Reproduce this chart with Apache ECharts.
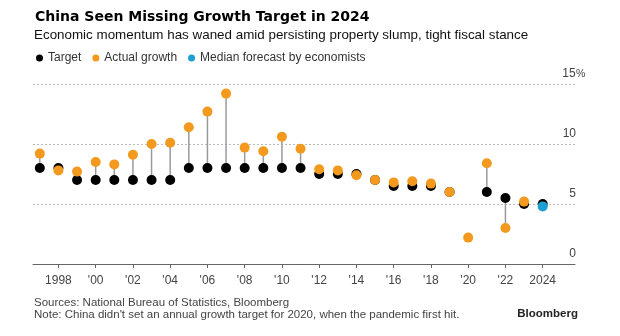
<!DOCTYPE html>
<html>
<head>
<meta charset="utf-8">
<script src="https://cdn.jsdelivr.net/npm/echarts@6/dist/echarts.min.js"></script>
<style>
html,body{margin:0;padding:0;background:#fff;}
#chart{width:620px;height:336px;}
</style>
</head>
<body>
<div id="chart"></div>
<script>
// ---- Data ----
const years = [1997,1998,1999,2000,2001,2002,2003,2004,2005,2006,2007,2008,2009,2010,2011,2012,2013,2014,2015,2016,2017,2018,2019,2020,2021,2022,2023,2024];
const target = [8,8,7,7,7,7,7,7,8,8,8,8,8,8,8,7.5,7.5,7.5,7,6.5,6.5,6.5,6,null,6,5.5,5,5];
const actual = [9.2,7.8,7.7,8.5,8.3,9.1,10.0,10.1,11.4,12.7,14.2,9.7,9.4,10.6,9.6,7.9,7.8,7.4,7.0,6.8,6.9,6.7,6.0,2.2,8.4,3.0,5.2,null];
const forecastYears = [2024];
const forecast = [4.8];
const xTickYears = [1998,2000,2002,2004,2006,2008,2010,2012,2014,2016,2018,2020,2022,2024];
const yTicks = [0,5,10,15];
const legendNames = ['Target','Actual growth','Median forecast by economists'];

const titleText = 'China Seen Missing Growth Target in 2024';
const subtitleText = 'Economic momentum has waned amid persisting property slump, tight fiscal stance';
const sourceText = 'Sources: National Bureau of Statistics, Bloomberg';
const noteText = "Note: China didn't set an annual growth target for 2020, when the pandemic first hit.";

// ---- Build ----
const C_TARGET = '#000000', C_ACTUAL = '#F39A1E', C_FORECAST = '#1E9ED1';
const SANS = "'Liberation Sans', Arial, sans-serif";

const pair = (xs, ys) => xs.map((x, i) => [x, ys[i]]).filter(d => d[1] != null);
const stemData = years.map((y, i) => [y, target[i], actual[i]]).filter(d => d[1] != null && d[2] != null);

const chart = echarts.init(document.getElementById('chart'), null, {renderer: 'canvas'});
chart.setOption({
  animation: false,
  backgroundColor: '#fff',
  textStyle: {fontFamily: SANS},
  grid: {left: 33, right: 45, top: 84, bottom: 72, containLabel: false},
  legend: {
    data: legendNames,
    left: 31, top: 47,
    icon: 'circle', itemWidth: 7, itemHeight: 7, itemGap: 11,
    textStyle: {fontSize: 12, color: '#333', fontFamily: SANS},
    selectedMode: false
  },
  graphic: [
    {type: 'text', left: 35, top: 10, style: {text: titleText, font: "bold 14px 'DejaVu Sans', sans-serif", fill: '#000'}},
    {type: 'text', left: 34, top: 29, style: {text: subtitleText, font: "13.4px " + SANS, fill: '#111'}},
    {type: 'text', left: 34, top: 297, style: {text: sourceText, font: "11.5px " + SANS, fill: '#444'}},
    {type: 'text', left: 34, top: 309, style: {text: noteText, font: "11.5px " + SANS, fill: '#444'}},
    {type: 'text', right: 42, top: 308, style: {text: 'Bloomberg', font: "bold 11.5px " + SANS, fill: '#222'}}
  ],
  xAxis: {
    type: 'value', min: 1996.635, max: 2025.735,
    axisLine: {show: true, lineStyle: {color: '#666', width: 1}},
    axisTick: {show: true, length: 4, lineStyle: {color: '#666'}, customValues: xTickYears},
    axisLabel: {
      customValues: xTickYears, margin: 11, fontSize: 12, color: '#444',
      formatter: v => (v === 1998 || v === 2024) ? String(v) : "'" + String(v).slice(2)
    },
    splitLine: {show: false}
  },
  yAxis: {
    type: 'value', min: 0, max: 15, interval: 5, position: 'right',
    axisLine: {show: false}, axisTick: {show: false},
    axisLabel: {
      inside: true, margin: 13, align: 'left', fontSize: 12, color: '#444',
      verticalAlign: 'bottom', padding: [0, 0, 4, 0],
      formatter: v => v === 15 ? '{n|15}{p|%}' : '{n|' + v + '}',
      rich: {
        n: {width: 14, align: 'right', fontSize: 12, color: '#444'},
        p: {fontSize: 10.5, color: '#444'}
      }
    },
    splitLine: {show: true, lineStyle: {color: '#bbb', type: [2, 2], width: 1}}
  },
  series: [
    {
      type: 'custom', name: 'stems', silent: true, z: 1,
      data: stemData,
      encode: {x: 0, y: [1, 2]},
      renderItem: (params, api) => {
        const p1 = api.coord([api.value(0), api.value(1)]);
        const p2 = api.coord([api.value(0), api.value(2)]);
        return {type: 'line', shape: {x1: p1[0], y1: p1[1], x2: p2[0], y2: p2[1]},
                style: {stroke: '#9a9a9a', lineWidth: 1.5}};
      }
    },
    {type: 'scatter', name: legendNames[0], data: pair(years, target), symbolSize: 10, itemStyle: {color: C_TARGET, opacity: 1}, z: 2},
    {type: 'scatter', name: legendNames[1], data: pair(years, actual), symbolSize: 10, itemStyle: {color: C_ACTUAL, opacity: 1}, z: 3},
    {type: 'scatter', name: legendNames[2], data: pair(forecastYears, forecast), symbolSize: 10, itemStyle: {color: C_FORECAST, opacity: 1}, z: 4}
  ]
});
</script>
</body>
</html>
